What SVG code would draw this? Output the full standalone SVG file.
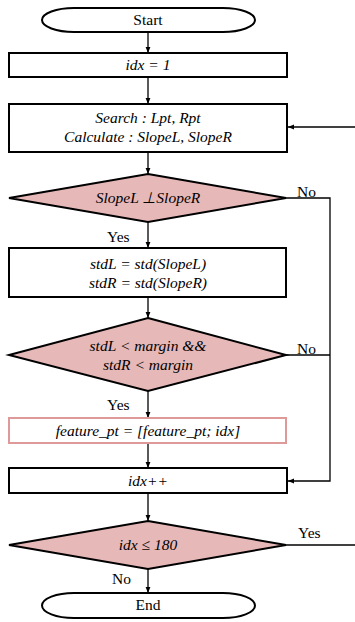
<svg xmlns="http://www.w3.org/2000/svg" width="355" height="622" viewBox="0 0 355 622">
<style>
.box{fill:#fff;stroke:#000;stroke-width:2}
.dec{fill:#e6b8b7;stroke:#000;stroke-width:2}
.pbox{fill:#fff;stroke:#dd9a98;stroke-width:2}
.t{font-family:"Liberation Serif","Times New Roman",serif;font-size:15.5px;text-anchor:middle;fill:#000}
.i{font-style:italic}
.lbl{font-family:"Liberation Serif","Times New Roman",serif;font-size:15.5px;fill:#000}
.c{fill:none;stroke:#000;stroke-width:1.3}
</style>
<defs>
<marker id="ah" viewBox="0 0 10 10" refX="10" refY="5" markerWidth="6" markerHeight="6" orient="auto" markerUnits="userSpaceOnUse">
<path d="M0,1 L10,5 L0,9 z" fill="#000"/>
</marker>
</defs>
<g id="connectors">
<line class="c" x1="148" y1="32" x2="148" y2="53" marker-end="url(#ah)"/>
<line class="c" x1="148" y1="77" x2="148" y2="104" marker-end="url(#ah)"/>
<line class="c" x1="355" y1="127" x2="288" y2="127" marker-end="url(#ah)"/>
<line class="c" x1="148" y1="152" x2="148" y2="174" marker-end="url(#ah)"/>
<polyline class="c" points="286,198 330,198 330,481 288,481" marker-end="url(#ah)"/>
<line class="c" x1="148" y1="222" x2="148" y2="248" marker-end="url(#ah)"/>
<line class="c" x1="148" y1="297" x2="148" y2="318" marker-end="url(#ah)"/>
<line class="c" x1="286" y1="355" x2="330" y2="355"/>
<line class="c" x1="148" y1="391" x2="148" y2="418" marker-end="url(#ah)"/>
<line class="c" x1="148" y1="443" x2="148" y2="468" marker-end="url(#ah)"/>
<line class="c" x1="148" y1="493" x2="148" y2="521" marker-end="url(#ah)"/>
<line class="c" x1="286" y1="545" x2="355" y2="545"/>
<line class="c" x1="148" y1="569" x2="148" y2="593" marker-end="url(#ah)"/>
<text class="lbl" x="297" y="197">No</text>
<text class="lbl" x="107" y="242">Yes</text>
<text class="lbl" x="297" y="354">No</text>
<text class="lbl" x="107" y="410">Yes</text>
<text class="lbl" x="298" y="538">Yes</text>
<text class="lbl" x="112" y="584">No</text>
</g>
<g id="start">
<rect class="box" x="42" y="8" width="213" height="24" rx="32" ry="12"/>
<text class="t" x="148" y="25">Start</text>
</g>
<g id="init">
<rect class="box" x="9" y="53" width="278" height="24"/>
<text class="t i" x="148" y="70">idx = 1</text>
</g>
<g id="search">
<rect class="box" x="9" y="104" width="278" height="48"/>
<text class="t i" x="148" y="123">Search : Lpt, Rpt</text>
<text class="t i" x="148" y="142">Calculate : SlopeL, SlopeR</text>
</g>
<g id="perp">
<polygon class="dec" points="148,174 286,198 148,222 9,198"/>
<text class="t i" x="148" y="203">SlopeL ⊥SlopeR</text>
</g>
<g id="std">
<rect class="box" x="9" y="248" width="277" height="49"/>
<text class="t i" x="148" y="269">stdL = std(SlopeL)</text>
<text class="t i" x="148" y="288">stdR = std(SlopeR)</text>
</g>
<g id="margin">
<polygon class="dec" points="148,318 286,355 148,391 9,355"/>
<text class="t i" x="148" y="351">stdL &lt; margin &amp;&amp;</text>
<text class="t i" x="148" y="370">stdR &lt; margin</text>
</g>
<g id="feature">
<rect class="pbox" x="9" y="418" width="277" height="25"/>
<text class="t i" x="148" y="436">feature_pt = [feature_pt; idx]</text>
</g>
<g id="inc">
<rect class="box" x="9" y="468" width="278" height="25"/>
<text class="t i" x="148" y="486">idx++</text>
</g>
<g id="loop">
<polygon class="dec" points="148,521 286,545 148,569 9,545"/>
<text class="t i" x="148" y="550">idx ≤ 180</text>
</g>
<g id="end">
<rect class="box" x="42" y="593" width="213" height="25" rx="32" ry="12.5"/>
<text class="t" x="148" y="610">End</text>
</g>
</svg>
